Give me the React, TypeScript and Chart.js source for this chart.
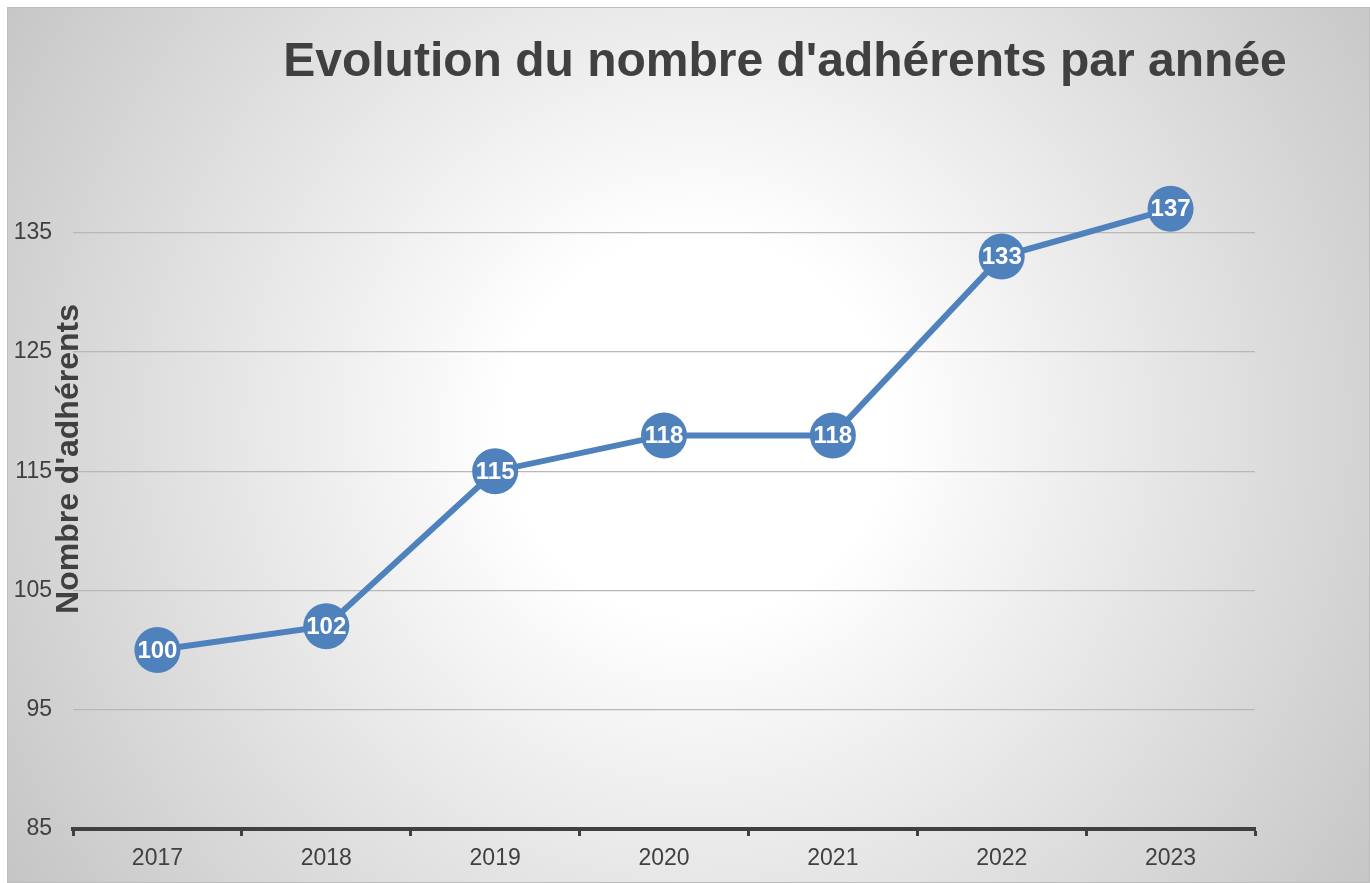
import React, { useEffect, useRef } from "react";
import { Chart, registerables } from "chart.js";

Chart.register(...registerables);

const categories: string[] = ["2017", "2018", "2019", "2020", "2021", "2022", "2023"];
const adherents: number[] = [100, 102, 115, 118, 118, 133, 137];
const yTickValues: number[] = [85, 95, 105, 115, 125, 135];
const yMin = 85;
const yMax = 140;
const chartTitle = "Evolution du nombre d'adhérents par année";
const yTitle = "Nombre d'adhérents";

const FONT = "'Liberation Sans', Arial, sans-serif";
const BLUE = "#4f81bd";
const DARK = "#404040";

const bgPlugin = {
  id: "bgPlugin",
  beforeDraw(chart: any) {
    const { ctx, width, height } = chart;
    ctx.save();
    const g = ctx.createRadialGradient(690, 420, 0, 690, 420, 860);
    g.addColorStop(0, "#ffffff");
    g.addColorStop(0.22, "#ffffff");
    g.addColorStop(1, "#c2c2c2");
    ctx.fillStyle = g;
    ctx.fillRect(0, 0, width, height);
    ctx.strokeStyle = "#bdbdbd";
    ctx.lineWidth = 1;
    ctx.strokeRect(0.5, 0.5, width - 1, height - 1);
    ctx.restore();
  },
};

const textPlugin = {
  id: "textPlugin",
  afterDraw(chart: any) {
    const { ctx } = chart;
    ctx.save();
    ctx.fillStyle = DARK;
    ctx.textAlign = "center";
    ctx.textBaseline = "middle";
    ctx.font = `bold 48px ${FONT}`;
    ctx.fillText(chartTitle, 778, 56);
    ctx.translate(62, 452);
    ctx.rotate(-Math.PI / 2);
    ctx.font = `bold 32px ${FONT}`;
    ctx.fillText(yTitle, 0, 0);
    ctx.restore();
  },
};

const labelPlugin = {
  id: "labelPlugin",
  afterDatasetsDraw(chart: any) {
    const { ctx } = chart;
    const meta = chart.getDatasetMeta(0);
    const data = chart.data.datasets[0].data;
    ctx.save();
    ctx.fillStyle = "#ffffff";
    ctx.textAlign = "center";
    ctx.textBaseline = "middle";
    ctx.font = `bold 24px ${FONT}`;
    meta.data.forEach((pt: any, i: number) => {
      ctx.fillText(String(data[i]), pt.x, pt.y + 1);
    });
    ctx.restore();
  },
};

export default function App() {
  const ref = useRef<HTMLCanvasElement>(null);
  useEffect(() => {
    if (!ref.current) return;
    const chart = new Chart(ref.current, {
      type: "line",
      data: {
        labels: categories,
        datasets: [
          {
            data: adherents,
            borderColor: BLUE,
            backgroundColor: BLUE,
            borderWidth: 6,
            pointRadius: 23,
            pointBackgroundColor: BLUE,
            pointBorderWidth: 0,
            tension: 0,
          },
        ],
      },
      options: {
        animation: false,
        responsive: true,
        maintainAspectRatio: false,
        layout: { padding: { top: 166, right: 115, left: 0, bottom: 0 } },
        plugins: {
          legend: { display: false },
          title: { display: false },
          tooltip: { enabled: false },
        },
        scales: {
          x: {
            type: "category",
            offset: true,
            grid: {
              offset: true,
              drawOnChartArea: false,
              drawTicks: true,
              tickLength: 7,
              tickColor: DARK,
              tickWidth: 3,
            },
            border: { display: true, color: DARK, width: 4 },
            ticks: {
              color: DARK,
              font: { family: FONT, size: 23 },
              padding: 9,
              maxRotation: 0,
            },
            afterFit(scale: any) {
              scale.height = 54;
            },
          },
          y: {
            min: yMin,
            max: yMax,
            ticks: {
              color: DARK,
              font: { family: FONT, size: 23 },
              padding: 21,
            },
            grid: {
              color: "#b8b8b8",
              lineWidth: 1.2,
              drawTicks: false,
            },
            border: { display: false },
            afterBuildTicks(scale: any) {
              scale.ticks = yTickValues.map((v) => ({ value: v }));
            },
            afterFit(scale: any) {
              scale.width = 66;
            },
          },
        },
      },
      plugins: [bgPlugin, labelPlugin, textPlugin],
    });
    return () => chart.destroy();
  }, []);
  return (
    <div style={{ position: "fixed", left: 7, top: 7, width: 1363, height: 876 }}>
      <canvas ref={ref} />
    </div>
  );
}
